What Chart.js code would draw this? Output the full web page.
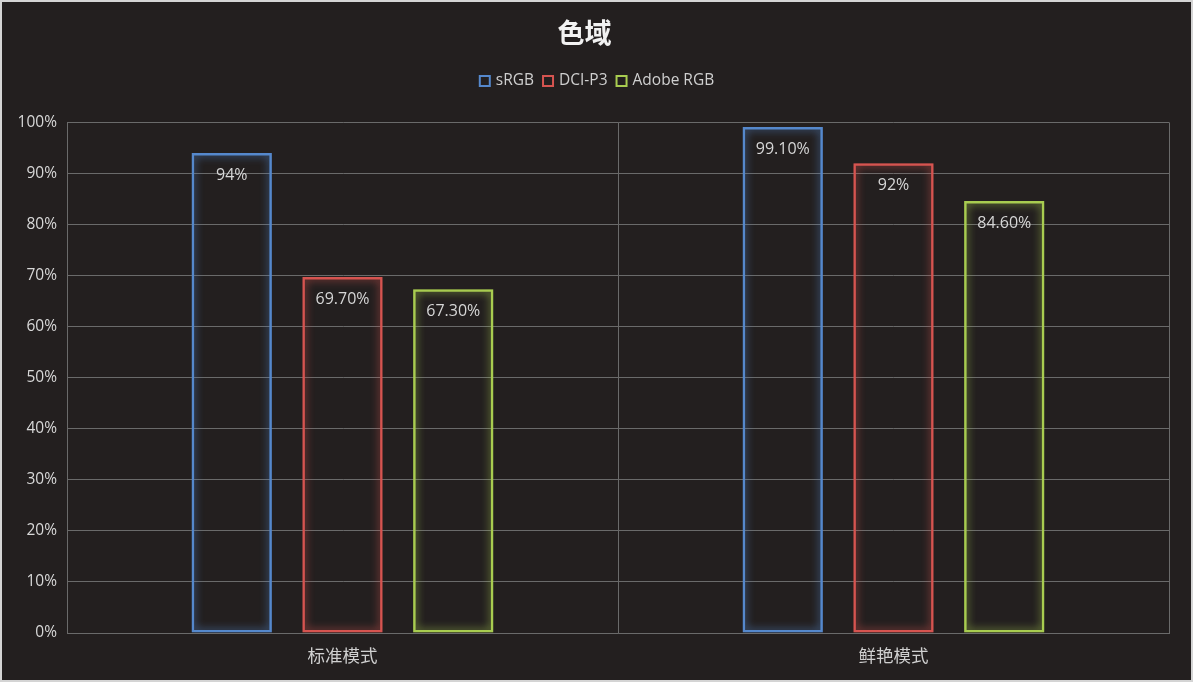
<!DOCTYPE html>
<html><head><meta charset="utf-8">
<script src="https://cdn.jsdelivr.net/npm/chart.js@4/dist/chart.umd.min.js"></script>
<style>html,body{margin:0;padding:0;background:#231f1f;}#wrap{width:1193px;height:682px;position:relative;}</style>
</head><body><div id="wrap"><canvas id="c" width="1193" height="682"></canvas></div>
<script>
const categories = ['标准模式', '鲜艳模式'];
const seriesNames = ['sRGB', 'DCI-P3', 'Adobe RGB'];
const srgbValues = [94, 99.1];
const dciValues = [69.7, 92];
const adobeValues = [67.3, 84.6];
const srgbLabels = ['94%', '99.10%'];
const dciLabels = ['69.70%', '92%'];
const adobeLabels = ['67.30%', '84.60%'];
const yTicks = [0, 10, 20, 30, 40, 50, 60, 70, 80, 90, 100];
const colors = ['#5588cc', '#d65450', '#a8cc50'];
const FONT = '"Open Sans", "Noto Sans", sans-serif';

const bgPlugin = {
  id: 'bg',
  beforeDraw(chart) {
    const ctx = chart.ctx;
    ctx.save();
    ctx.fillStyle = '#231f1f';
    ctx.fillRect(0, 0, chart.width, chart.height);
    ctx.restore();
  },
  afterDraw(chart) {
    const ctx = chart.ctx;
    ctx.save();
    ctx.strokeStyle = '#d4d4d4';
    ctx.lineWidth = 2;
    ctx.strokeRect(1, 1, chart.width - 2, chart.height - 2);
    ctx.restore();
  }
};
const legendPlugin = {
  id: 'customLegend',
  afterDraw(chart) {
    const ctx = chart.ctx;
    ctx.save();
    ctx.font = '15.5px ' + FONT;
    ctx.textBaseline = 'middle';
    ctx.textAlign = 'left';
    const box = 12, gapBT = 5, gapItem = 8, y = 81;
    const items = chart.data.datasets.map(ds => ({ text: ds.label, color: ds.borderColor, w: ctx.measureText(ds.label).width }));
    const total = items.reduce((s, it) => s + box + gapBT + it.w, 0) + gapItem * (items.length - 1);
    let x = chart.width / 2 - total / 2;
    items.forEach(it => {
      ctx.strokeStyle = it.color;
      ctx.lineWidth = 2;
      ctx.strokeRect(x + 1, y - box / 2 + 1, box - 2, box - 2);
      ctx.fillStyle = '#cfcfcf';
      ctx.fillText(it.text, x + box + gapBT, y);
      x += box + gapBT + it.w + gapItem;
    });
    ctx.restore();
  }
};
const glowPlugin = {
  id: 'glow',
  beforeDatasetDraw(chart, args) {
    const ctx = chart.ctx;
    ctx.save();
    ctx.shadowColor = chart.data.datasets[args.index].borderColor;
    ctx.shadowBlur = 8;
  },
  afterDatasetDraw(chart) { chart.ctx.restore(); }
};
const labelPlugin = {
  id: 'vlabels',
  afterDatasetsDraw(chart) {
    const ctx = chart.ctx;
    ctx.save();
    ctx.font = '16px ' + FONT;
    ctx.fillStyle = '#d6d6d6';
    ctx.textAlign = 'center';
    ctx.textBaseline = 'middle';
    chart.data.datasets.forEach((ds, i) => {
      chart.getDatasetMeta(i).data.forEach((bar, j) => {
        ctx.fillText(ds.valueLabels[j], bar.x, bar.y + 22);
      });
    });
    ctx.restore();
  }
};

new Chart(document.getElementById('c'), {
  type: 'bar',
  data: {
    labels: categories,
    datasets: [
      { label: seriesNames[0], data: srgbValues, valueLabels: srgbLabels, borderColor: colors[0] },
      { label: seriesNames[1], data: dciValues, valueLabels: dciLabels, borderColor: colors[1] },
      { label: seriesNames[2], data: adobeValues, valueLabels: adobeLabels, borderColor: colors[2] }
    ].map(d => Object.assign(d, {
      backgroundColor: 'rgba(0,0,0,0)', borderWidth: 2.5, borderSkipped: false,
      categoryPercentage: 0.603, barPercentage: 0.725
    }))
  },
  options: {
    responsive: false,
    animation: false,
    layout: { padding: { left: 0, right: 24, top: 0, bottom: 0 } },
    plugins: {
      title: {
        display: true, text: '色域', color: '#f2f2f2',
        font: { size: 27, weight: 'bold', family: '"Noto Sans CJK SC", sans-serif', lineHeight: 1.2 },
        padding: { top: 17, bottom: 73 }
      },
      legend: { display: false },
      tooltip: { enabled: false }
    },
    scales: {
      x: {
        offset: true,
        grid: { color: '#6a6a6a', lineWidth: 1, offset: true, drawTicks: false },
        border: { color: '#6a6a6a' },
        ticks: { color: '#d0d0d0', padding: 12, font: { size: 17.5, family: '"Noto Sans CJK SC", sans-serif' } },
        afterFit(s) { s.height = 49; }
      },
      y: {
        min: 0, max: 100,
        afterBuildTicks(s) { s.ticks = yTicks.map(v => ({ value: v })); },
        grid: { color: '#6a6a6a', lineWidth: 1, drawTicks: false },
        border: { color: '#6a6a6a' },
        ticks: { color: '#d8d8d8', padding: 10, font: { size: 15.5, family: FONT }, callback: v => v + '%' },
        afterFit(s) { s.width = 67; }
      }
    }
  },
  plugins: [bgPlugin, glowPlugin, labelPlugin, legendPlugin]
});
</script>
</body></html>
